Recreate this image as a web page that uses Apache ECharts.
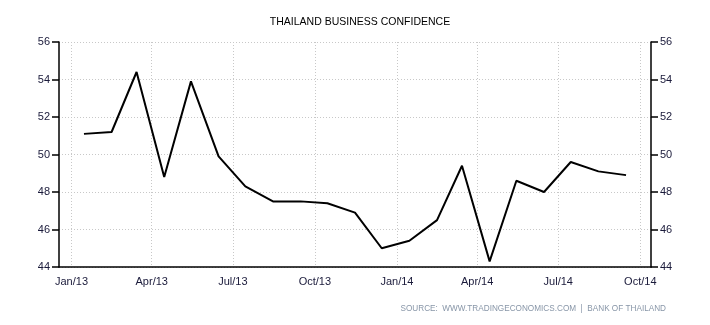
<!DOCTYPE html>
<html><head><meta charset="utf-8">
<script src="https://cdn.jsdelivr.net/npm/echarts@6/dist/echarts.min.js"></script>
<style>html,body{margin:0;padding:0;background:#fff}#c{width:710px;height:325px}</style>
</head><body><div id="c"></div>
<script>
const chartTitle = 'THAILAND BUSINESS CONFIDENCE';
const sourceText = 'SOURCE:  WWW.TRADINGECONOMICS.COM  |  BANK OF THAILAND';
const dates = ['2013-01-15','2013-02-15','2013-03-15','2013-04-15','2013-05-15','2013-06-15','2013-07-15','2013-08-15','2013-09-15','2013-10-15','2013-11-15','2013-12-15','2014-01-15','2014-02-15','2014-03-15','2014-04-15','2014-05-15','2014-06-15','2014-07-15','2014-08-15','2014-09-15'];
const values = [51.1, 51.2, 54.4, 48.8, 53.9, 49.9, 48.3, 47.5, 47.5, 47.4, 46.9, 45.0, 45.4, 46.5, 49.4, 44.3, 48.6, 48.0, 49.6, 49.1, 48.9];
const tickDates = ['2013-01-01','2013-04-01','2013-07-01','2013-10-01','2014-01-01','2014-04-01','2014-07-01','2014-10-01'];
const tickLabels = ['Jan/13','Apr/13','Jul/13','Oct/13','Jan/14','Apr/14','Jul/14','Oct/14'];
const xRange = ['2012-12-18', '2014-10-13'];
const yMin = 44, yMax = 56, yStep = 2;

const DAY = 86400000;
const toDay = s => { const p = s.split('-').map(Number); return Math.round(Date.UTC(p[0], p[1]-1, p[2]) / DAY); };
const tickDays = tickDates.map(toDay);
const labelFont = 'Liberation Sans';
const labelColor = '#1a1a3a';

const yAxisBase = (pos) => ({
  type: 'value', position: pos, min: yMin, max: yMax, interval: yStep,
  axisLine: { show: true, lineStyle: { color: '#000', width: 1.5 } },
  axisTick: { show: true, inside: false, length: 7, lineStyle: { color: '#000', width: 1.5 } },
  axisLabel: { color: labelColor, fontFamily: labelFont, fontSize: 11, margin: 9 },
  splitLine: { show: pos === 'left', lineStyle: { color: '#c8c8c8', type: [1, 2], width: 1 } }
});

const chart = echarts.init(document.getElementById('c'), null, { renderer: 'canvas' });
chart.setOption({
  animation: false,
  backgroundColor: '#fff',
  title: { text: chartTitle, left: 355, top: 12, textAlign: 'center',
    textStyle: { fontFamily: labelFont, fontSize: 10.5, fontWeight: 'normal', color: '#000' } },
  graphic: [{ type: 'text', right: 44, top: 305,
    style: { text: sourceText, fill: '#8896a8', font: '8.2px "Liberation Sans"' } }],
  grid: { left: 59, right: 59, top: 42, bottom: 58 },
  xAxis: {
    type: 'value', min: toDay(xRange[0]), max: toDay(xRange[1]),
    axisLine: { show: true, onZero: false, lineStyle: { color: '#000', width: 1.5 } },
    axisTick: { show: false, customValues: tickDays },
    axisLabel: { customValues: tickDays, color: labelColor, fontFamily: labelFont, fontSize: 11, margin: 9,
      formatter: v => { const i = tickDays.indexOf(Math.round(v)); return i >= 0 ? tickLabels[i] : ''; } },
    splitLine: { show: true, lineStyle: { color: '#c8c8c8', type: [1, 2], width: 1 } }
  },
  yAxis: [yAxisBase('left'), yAxisBase('right')],
  series: [{
    type: 'line', symbol: 'none', yAxisIndex: 0,
    data: dates.map((d, i) => [toDay(d), values[i]]),
    lineStyle: { color: '#000', width: 2 }
  }]
});
</script></body></html>
